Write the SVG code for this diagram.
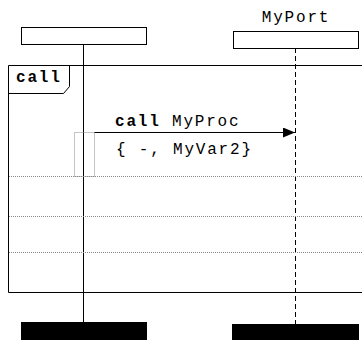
<svg xmlns="http://www.w3.org/2000/svg" width="362" height="340" viewBox="0 0 362 340">
<style>
.t{font-family:"Liberation Mono","Courier New",monospace;font-size:16px;letter-spacing:1.8px;fill:#000}
.b{font-weight:bold}
.box{fill:#fff;stroke:#000;stroke-width:1}
.dot{stroke:#888;stroke-width:1;stroke-dasharray:1,1;fill:none}
</style>
<defs>
<marker id="ah" markerWidth="12" markerHeight="10" refX="12" refY="5" orient="auto" markerUnits="userSpaceOnUse">
<path d="M0,0 L12,5 L0,10 Z" fill="#000"/>
</marker>
</defs>
<g id="frame">
<path d="M362,65.5 H8.5 V292.5 H362" fill="none" stroke="#000"/>
<path d="M8.5,93.5 H63.5 L69.5,86.5 V65.5" fill="none" stroke="#000"/>
<text class="t b" x="16" y="82">call</text>
</g>
<g id="lifelines">
<line x1="83.5" y1="44" x2="83.5" y2="322" stroke="#000"/>
<line x1="295.5" y1="48" x2="295.5" y2="324" stroke="#000" stroke-dasharray="5,3"/>
</g>
<g id="sep">
<line class="dot" x1="9" y1="176.5" x2="362" y2="176.5"/>
<line class="dot" x1="9" y1="216.5" x2="362" y2="216.5"/>
<line class="dot" x1="9" y1="252.5" x2="362" y2="252.5"/>
</g>
<g id="comp1">
<rect class="box" x="21.5" y="27.5" width="125" height="17"/>
<rect x="21" y="322" width="126" height="18" fill="#000"/>
</g>
<g id="port">
<text class="t" x="296" y="22" text-anchor="middle">MyPort</text>
<rect class="box" x="233.5" y="31.5" width="125" height="17"/>
<rect x="232" y="324" width="127" height="16" fill="#000"/>
</g>
<g id="act">
<rect class="dot" x="74.5" y="132.5" width="20" height="44" fill="#fff"/>
</g>
<g id="connectors">
<line x1="94.5" y1="132.5" x2="295" y2="132.5" stroke="#000" marker-end="url(#ah)"/>
<text class="t" x="115" y="126"><tspan class="b">call</tspan> MyProc</text>
<text class="t" x="116" y="154">{ -, MyVar2}</text>
</g>
</svg>
